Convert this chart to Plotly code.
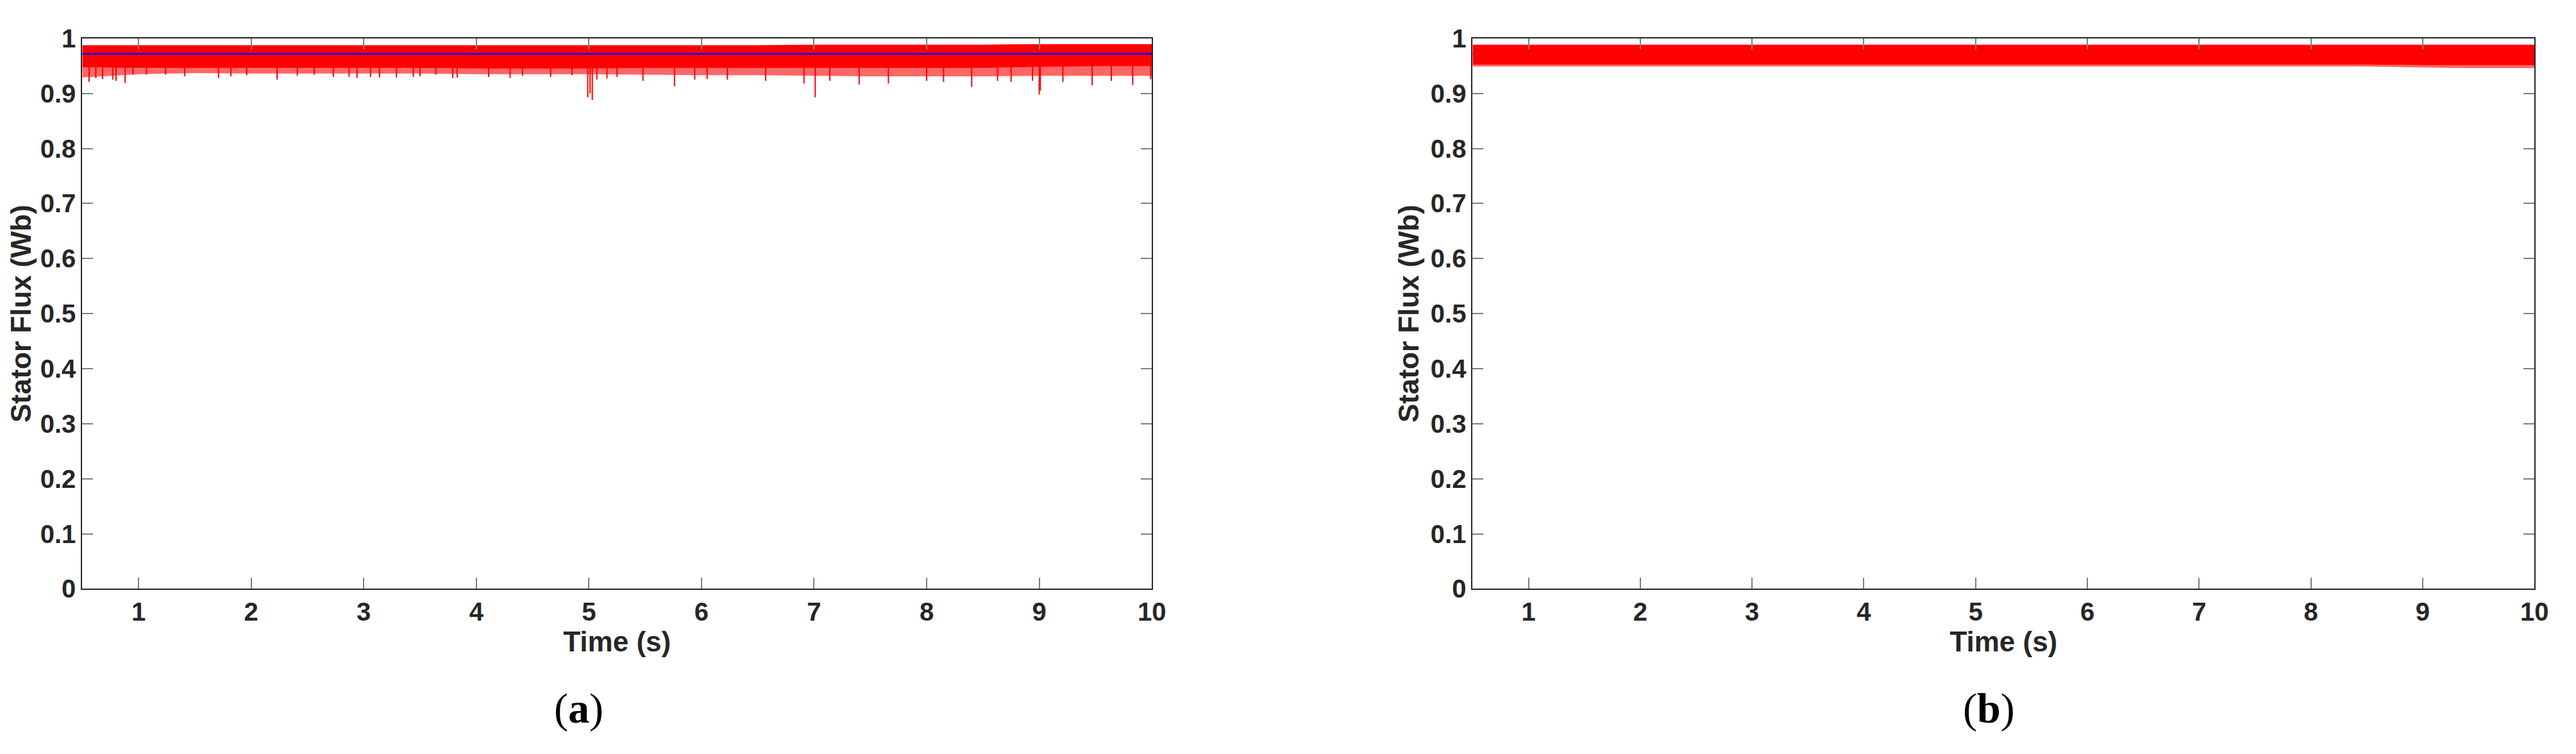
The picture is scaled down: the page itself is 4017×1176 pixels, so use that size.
import plotly.graph_objects as go

# ---------------- data ----------------
# envelope sample times (s)
t_env = [0.5, 1.0, 1.5, 2.0, 2.5, 3.0, 3.5, 4.0, 4.5, 5.0,
         5.5, 6.0, 6.5, 7.0, 7.5, 8.0, 8.5, 9.0, 9.5, 10.0]

# (a) stator flux: band upper edge, dense lower edge, fringe lower edge
upper_a = [0.987, 0.987, 0.987, 0.987, 0.987, 0.987, 0.987, 0.987, 0.987, 0.987,
           0.987, 0.987, 0.987, 0.988, 0.988, 0.988, 0.988, 0.989, 0.989, 0.989]
lower_a = [0.948, 0.947, 0.947, 0.947, 0.947, 0.947, 0.947, 0.946, 0.946, 0.946,
           0.947, 0.947, 0.947, 0.947, 0.947, 0.947, 0.947, 0.949, 0.950, 0.950]
fringe_a = [0.929, 0.935, 0.937, 0.936, 0.936, 0.936, 0.936, 0.935, 0.935, 0.935,
            0.934, 0.933, 0.933, 0.932, 0.931, 0.931, 0.931, 0.932, 0.932, 0.932]
ref_a = [0.972, 0.972]
ref_t = [0.5, 10.0]

# (a) deep downward spikes: time (s), minimum value (Wb)
spike_t_a = [0.56, 0.62, 0.68, 0.77, 0.80, 0.88, 0.95, 1.07, 1.24, 1.41, 1.71, 1.82,
             1.96, 2.23, 2.41, 2.56, 2.73, 2.87, 2.94, 3.06, 3.14, 3.29, 3.44, 3.50,
             3.64, 3.79, 3.83, 4.11, 4.30, 4.41, 4.66, 4.85, 4.99, 5.01, 5.03, 5.07,
             5.16, 5.25, 5.48, 5.76, 5.94, 6.05, 6.23, 6.57, 6.91, 7.01, 7.14, 7.40,
             7.66, 8.00, 8.15, 8.40, 8.63, 8.75, 8.94, 9.00, 9.01, 9.21, 9.47, 9.64,
             9.83, 9.99]
spike_v_a = [0.921, 0.928, 0.926, 0.925, 0.923, 0.919, 0.934, 0.934, 0.934, 0.931, 0.928, 0.931,
             0.933, 0.925, 0.932, 0.934, 0.930, 0.930, 0.928, 0.930, 0.929, 0.929, 0.930, 0.931,
             0.934, 0.928, 0.929, 0.930, 0.928, 0.932, 0.930, 0.933, 0.893, 0.900, 0.888, 0.925,
             0.927, 0.930, 0.923, 0.913, 0.925, 0.926, 0.925, 0.923, 0.918, 0.893, 0.923, 0.916,
             0.918, 0.923, 0.921, 0.912, 0.923, 0.921, 0.923, 0.898, 0.905, 0.921, 0.915, 0.923,
             0.915, 0.926]

# (b) stator flux band
upper_b = [0.988, 0.988, 0.988, 0.988, 0.988, 0.988, 0.988, 0.988, 0.988, 0.988,
           0.988, 0.988, 0.988, 0.988, 0.988, 0.988, 0.988, 0.988, 0.988, 0.988]
lower_b = [0.953, 0.953, 0.953, 0.953, 0.953, 0.953, 0.953, 0.953, 0.953, 0.953,
           0.953, 0.953, 0.953, 0.953, 0.953, 0.953, 0.953, 0.952, 0.952, 0.952]
fringe_b = [0.949, 0.949, 0.949, 0.949, 0.949, 0.949, 0.949, 0.949, 0.949, 0.949,
            0.949, 0.949, 0.949, 0.949, 0.949, 0.949, 0.949, 0.947, 0.946, 0.946]
ref_b = [0.972, 0.972]

x_ticks = [1, 2, 3, 4, 5, 6, 7, 8, 9, 10]
y_ticks = [0, 0.1, 0.2, 0.3, 0.4, 0.5, 0.6, 0.7, 0.8, 0.9, 1]
y_ticktext = ["0", "0.1", "0.2", "0.3", "0.4", "0.5", "0.6", "0.7", "0.8", "0.9", "1"]

RED = "#FF0000"
BLUE = "#0000FF"
FRINGE = "rgba(255,0,0,0.6)"

fig = go.Figure()


def add_band(xa, ya, upper, lower, fringe):
    # fringe (region of frequent short spikes)
    fig.add_trace(go.Scatter(x=t_env, y=lower, mode="lines", line=dict(width=0),
                             xaxis=xa, yaxis=ya, showlegend=False, hoverinfo="skip"))
    fig.add_trace(go.Scatter(x=t_env, y=fringe, mode="lines", line=dict(width=0),
                             fill="tonexty", fillcolor=FRINGE,
                             xaxis=xa, yaxis=ya, showlegend=False, hoverinfo="skip"))
    # dense band
    fig.add_trace(go.Scatter(x=t_env, y=upper, mode="lines", line=dict(width=1, color=RED),
                             xaxis=xa, yaxis=ya, showlegend=False, hoverinfo="skip"))
    fig.add_trace(go.Scatter(x=t_env, y=lower, mode="lines", line=dict(width=1, color=RED),
                             fill="tonexty", fillcolor=RED,
                             xaxis=xa, yaxis=ya, showlegend=False, hoverinfo="skip"))


# ---- panel (a) ----
add_band("x", "y", upper_a, lower_a, fringe_a)
sx, sy = [], []
for t, v in zip(spike_t_a, spike_v_a):
    sx += [t, t, None]
    sy += [ref_a[0], v, None]
fig.add_trace(go.Scatter(x=sx, y=sy, mode="lines", line=dict(width=2, color=RED),
                         xaxis="x", yaxis="y", showlegend=False, hoverinfo="skip"))
fig.add_trace(go.Scatter(x=ref_t, y=ref_a, mode="lines", line=dict(width=2.5, color=BLUE),
                         xaxis="x", yaxis="y", showlegend=False))

# ---- panel (b) ----
fig.add_trace(go.Scatter(x=ref_t, y=ref_b, mode="lines", line=dict(width=2.5, color=BLUE),
                         xaxis="x2", yaxis="y2", showlegend=False))
add_band("x2", "y2", upper_b, lower_b, fringe_b)

W, H = 4017, 1176
FONT = "Liberation Sans, Arial, sans-serif"
tickfont = dict(family=FONT, size=40, color="#262626", weight="bold")
titlefont = dict(family=FONT, size=44, color="#262626", weight="bold")

common_x = dict(range=[0.5, 10], tickvals=x_ticks, ticks="inside", ticklen=17, tickwidth=2,
                tickcolor="#7f7f7f", showline=True, linecolor="#262626", linewidth=2,
                mirror="ticks", showgrid=False, zeroline=False, tickfont=tickfont,
                title=dict(text="Time (s)", font=titlefont, standoff=4))
common_y = dict(range=[0, 1], tickvals=y_ticks, ticktext=y_ticktext, ticks="inside",
                ticklen=17, tickwidth=2, tickcolor="#7f7f7f", showline=True,
                linecolor="#262626", linewidth=2, mirror="ticks", showgrid=False,
                zeroline=False, tickfont=tickfont,
                title=dict(text="Stator Flux (Wb)", font=titlefont, standoff=4))

ydom = [1 - 923 / H, 1 - 31 / H]
ann_font = dict(family="Liberation Serif, Times New Roman, serif", size=66, color="black")
fig.update_layout(
    width=W, height=H,
    margin=dict(l=0, r=0, t=0, b=0),
    paper_bgcolor="white", plot_bgcolor="white",
    xaxis=dict(domain=[121 / W, 1798 / W], anchor="y", **common_x),
    yaxis=dict(domain=ydom, anchor="x", **common_y),
    xaxis2=dict(domain=[2301 / W, 3966 / W], anchor="y2", **common_x),
    yaxis2=dict(domain=ydom, anchor="x2", **common_y),
    annotations=[
        dict(text="(<b>a</b>)", x=899 / W, y=1 - 1117 / H, xref="paper", yref="paper",
             xanchor="center", yanchor="middle", showarrow=False, font=ann_font),
        dict(text="(<b>b</b>)", x=3111 / W, y=1 - 1117 / H, xref="paper", yref="paper",
             xanchor="center", yanchor="middle", showarrow=False, font=ann_font),
    ],
)

fig.write_html("out.html")
